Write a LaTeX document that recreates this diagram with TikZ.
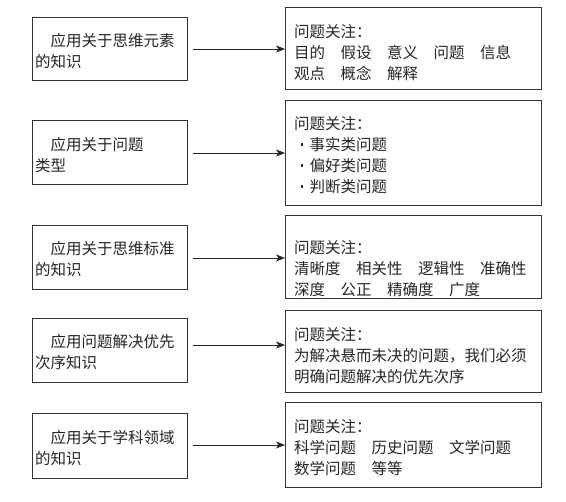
\documentclass[tikz,border=0pt]{standalone}
\usepackage{fontspec}
\setmainfont{Noto Sans CJK SC}
\usetikzlibrary{arrows.meta,calc}
\newcommand{\gp}{\hspace{1em}}
\newcommand{\bul}{\makebox[1em][c]{\raisebox{0.3em}{\rule{2.6pt}{2.6pt}}}}
\begin{document}
\begin{tikzpicture}[x=1pt,y=-1pt,
  every node/.style={font=\fontsize{15.5pt}{21pt}\selectfont, text=black!85},
  lbox/.style={draw=black!80, line width=0.8pt, anchor=north west, minimum width=155pt, inner sep=0pt},
  rbox/.style={draw=black!80, line width=0.8pt, anchor=north west, minimum width=256pt, inner sep=0pt},
  ltxt/.style={inner sep=0pt, align=left, anchor=west},
  rtxt/.style={inner sep=0pt, align=left, anchor=north west},
  arr/.style={draw=black!85, line width=0.7pt, -{Stealth[length=9pt,width=7pt,inset=2.5pt]}}]
\useasboundingbox (0,0) rectangle (566,502);
% left boxes
\node[lbox, minimum height=63pt] (L1) at (32,17) {};
\node[lbox, minimum height=64pt] (L2) at (32,120) {};
\node[lbox, minimum height=64pt] (L3) at (32,225) {};
\node[lbox, minimum height=64pt] (L4) at (32,318) {};
\node[lbox, minimum height=65pt] (L5) at (32,413) {};
% right boxes
\node[rbox, minimum height=82pt] (R1) at (285,7) {};
\node[rbox, minimum height=105pt] (R2) at (285,100) {};
\node[rbox, minimum height=83pt] (R3) at (285,215) {};
\node[rbox, minimum height=82pt] (R4) at (285,310) {};
\node[rbox, minimum height=85pt] (R5) at (285,402) {};
% arrow levels
\coordinate (A1) at (0,49);
\coordinate (A2) at (0,153);
\coordinate (A3) at (0,258);
\coordinate (A4) at (0,345);
\coordinate (A5) at (0,445);
\foreach \i in {1,...,5}{
  \draw[arr] ($(L\i.east |- A\i)+(5,0)$) -- (R\i.west |- A\i);
}
% left texts
\node[ltxt] (T1) at ([xshift=3pt,yshift=-2pt]L1.west) {\hspace*{1em}应用关于思维元素\\的知识};
\node[ltxt] (T2) at ([xshift=3pt,yshift=-3pt]L2.west) {\hspace*{1em}应用关于问题\\类型};
\node[ltxt] (T3) at ([xshift=3pt,yshift=-2pt]L3.west) {\hspace*{1em}应用关于思维标准\\的知识};
\node[ltxt] (T4) at ([xshift=3pt,yshift=-2pt]L4.west) {\hspace*{1em}应用问题解决优先\\次序知识};
\node[ltxt] (T5) at ([xshift=3pt,yshift=-2pt]L5.west) {\hspace*{1em}应用关于学科领域\\的知识};
% right texts
\node[rtxt] (S1) at ([xshift=9pt,yshift=-17pt]R1.north west) {问题关注：\\目的\gp 假设\gp 意义\gp 问题\gp 信息\\观点\gp 概念\gp 解释};
\node[rtxt] (S2) at ([xshift=9pt,yshift=-16pt]R2.north west) {问题关注：\\\bul 事实类问题\\\bul 偏好类问题\\\bul 判断类问题};
\node[rtxt] (S3) at ([xshift=9pt,yshift=-25pt]R3.north west) {问题关注：\\清晰度\gp 相关性\gp 逻辑性\gp 准确性\\深度\gp 公正\gp 精确度\gp 广度};
\node[rtxt] (S4) at ([xshift=9pt,yshift=-17pt]R4.north west) {问题关注：\\为解决悬而未决的问题，我们必须\\明确问题解决的优先次序};
\node[rtxt] (S5) at ([xshift=9pt,yshift=-17pt]R5.north west) {问题关注：\\科学问题\gp 历史问题\gp 文学问题\\数学问题\gp 等等};
\end{tikzpicture}
\end{document}
